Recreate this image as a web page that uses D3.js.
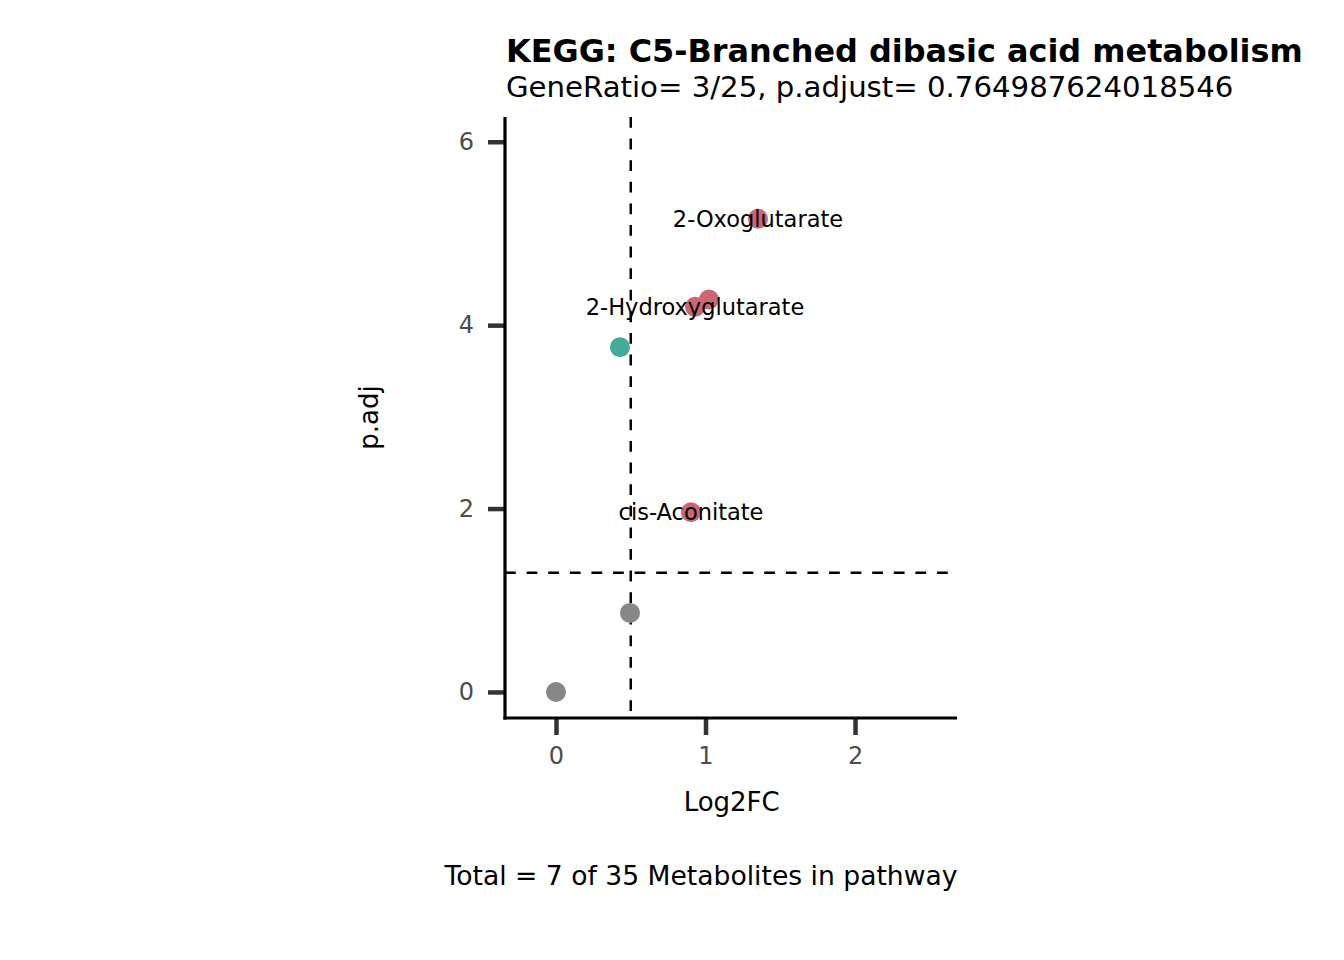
<!DOCTYPE html>
<html>
<head>
<meta charset="utf-8">
<script src="https://cdn.jsdelivr.net/npm/d3@7"></script>
<style>
  body { margin: 0; background: #fff; }
  svg { font-family: "DejaVu Sans", sans-serif; }
</style>
</head>
<body>
<svg class="chart" width="1344" height="960"></svg>
<script>
// -------------------- Data --------------------
var metabolites = ["M1", "M2", "M3", "cis-Aconitate", "2-Hydroxyglutarate", "M6", "2-Oxoglutarate"];
var log2fc = [0, 0.495, 0.428, 0.903, 0.93, 1.023, 1.351];
var padj = [0, 0.862, 3.76, 1.96, 4.2, 4.28, 5.16];
var groups = ["ns", "ns", "down", "up", "up", "up", "up"];
var labels = ["", "", "", "cis-Aconitate", "2-Hydroxyglutarate", "", "2-Oxoglutarate"];
var xTicks = [0, 1, 2];
var yTicks = [0, 2, 4, 6];
var fcCut = 0.5;
var pCut = 1.301;

var colors = {ns: "#878787", down: "#44AA99", up: "#CC6677"};

// -------------------- Settings --------------------
var margin = {top: 117, left: 505}
  , width = 957 - 505
  , height = 718 - 117;

var svg = d3.select(".chart");
var chart = svg.append("g")
  .attr("transform", "translate(" + margin.left + "," + margin.top + ")");

var x = d3.scaleLinear().domain([-0.341, 2.682]).range([0, width]);
var y = d3.scaleLinear().domain([-0.284, 6.27]).range([height, 0]);

// -------------------- Axes --------------------
var xAxis = chart.append("g")
  .attr("transform", "translate(0," + height + ")")
  .call(d3.axisBottom(x).tickValues(xTicks).tickFormat(d3.format("d")).tickSize(17).tickPadding(12));
var yAxis = chart.append("g")
  .call(d3.axisLeft(y).tickValues(yTicks).tickFormat(d3.format("d")).tickSize(17).tickPadding(14));

[xAxis, yAxis].forEach(function(a) {
  a.select(".domain").remove();
  a.selectAll(".tick line").attr("stroke", "#333333").attr("stroke-width", 4.5);
  a.selectAll(".tick text").attr("fill", "#4d4d4d").style("font-size", "24px")
    .style("font-family", "DejaVu Sans");
});

chart.append("line")
  .attr("x1", 0).attr("x2", 0).attr("y1", 0).attr("y2", height + 1.5)
  .attr("stroke", "#000").attr("stroke-width", 3.2);
chart.append("line")
  .attr("x1", -1.6).attr("x2", width).attr("y1", height).attr("y2", height)
  .attr("stroke", "#000").attr("stroke-width", 3.2);

// -------------------- Threshold lines --------------------
chart.append("line")
  .attr("x1", x(fcCut)).attr("x2", x(fcCut)).attr("y1", 0).attr("y2", height)
  .attr("stroke", "#000").attr("stroke-width", 2.5).attr("stroke-dasharray", "10.8,10.8");
chart.append("line")
  .attr("x1", 0).attr("x2", width).attr("y1", y(pCut)).attr("y2", y(pCut))
  .attr("stroke", "#000").attr("stroke-width", 2.5).attr("stroke-dasharray", "10.8,10.8");

// -------------------- Points --------------------
var data = metabolites.map(function(m, i) {
  return {name: m, fc: log2fc[i], p: padj[i], group: groups[i], label: labels[i]};
});

chart.selectAll("circle")
  .data(data)
  .enter()
  .append("circle")
    .attr("cx", function(d) { return x(d.fc); })
    .attr("cy", function(d) { return y(d.p); })
    .attr("r", 10)
    .attr("fill", function(d) { return colors[d.group]; });

chart.selectAll("text.lab")
  .data(data.filter(function(d) { return d.label; }))
  .enter()
  .append("text")
    .attr("class", "lab")
    .attr("x", function(d) { return x(d.fc); })
    .attr("y", function(d) { return y(d.p); })
    .attr("dy", "0.35em")
    .attr("text-anchor", "middle")
    .style("font-size", "22.5px")
    .text(function(d) { return d.label; });

// -------------------- Titles --------------------
svg.append("text")
  .attr("x", 506).attr("y", 62)
  .style("font-size", "31.9px").style("font-weight", "bold")
  .text("KEGG: C5-Branched dibasic acid metabolism");
svg.append("text")
  .attr("x", 506).attr("y", 97)
  .style("font-size", "29.2px")
  .text("GeneRatio= 3/25, p.adjust= 0.764987624018546");

svg.append("text")
  .attr("x", margin.left + x(1.175)).attr("y", 811)
  .attr("text-anchor", "middle")
  .style("font-size", "26px")
  .text("Log2FC");
svg.append("text")
  .attr("transform", "translate(378," + (margin.top + height / 2) + ") rotate(-90)")
  .attr("text-anchor", "middle")
  .style("font-size", "26px")
  .text("p.adj");

svg.append("text")
  .attr("x", 701).attr("y", 885)
  .attr("text-anchor", "middle")
  .style("font-size", "26.6px")
  .text("Total = 7 of 35 Metabolites in pathway");
</script>
</body>
</html>
